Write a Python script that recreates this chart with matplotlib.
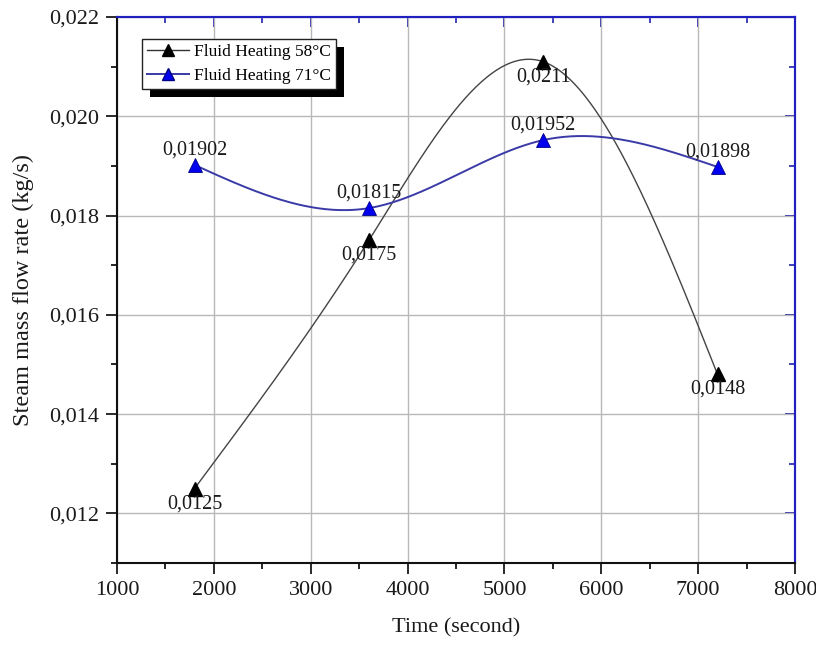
import numpy as np
import matplotlib
matplotlib.use("Agg")
import matplotlib.pyplot as plt
from matplotlib.ticker import MultipleLocator, FuncFormatter
from matplotlib.patches import Rectangle

plt.rcParams['font.family'] = ['Liberation Serif', 'DejaVu Serif']
plt.rcParams['mathtext.fontset'] = 'stix'

time_s = [1800, 3600, 5400, 7200]
flow_58 = [0.0125, 0.0175, 0.0211, 0.0148]
flow_71 = [0.01902, 0.01815, 0.01952, 0.01898]
labels_58 = ["0,0125", "0,0175", "0,0211", "0,0148"]
labels_71 = ["0,01902", "0,01815", "0,01952", "0,01898"]
series_names = ["Fluid Heating 58°C", "Fluid Heating 71°C"]


def natural_spline(x, y, n=300):
    x = np.asarray(x, float)
    y = np.asarray(y, float)
    k = len(x)
    h = np.diff(x)
    A = np.zeros((k, k))
    b = np.zeros(k)
    A[0, 0] = 1
    A[-1, -1] = 1
    for i in range(1, k - 1):
        A[i, i - 1] = h[i - 1]
        A[i, i] = 2 * (h[i - 1] + h[i])
        A[i, i + 1] = h[i]
        b[i] = 6 * ((y[i + 1] - y[i]) / h[i] - (y[i] - y[i - 1]) / h[i - 1])
    M = np.linalg.solve(A, b)
    xs = np.linspace(x[0], x[-1], n)
    ys = np.empty_like(xs)
    for j, xv in enumerate(xs):
        i = min(np.searchsorted(x, xv, side='right') - 1, k - 2)
        hi = h[i]
        t1 = x[i + 1] - xv
        t0 = xv - x[i]
        ys[j] = (M[i] * t1 ** 3 / (6 * hi) + M[i + 1] * t0 ** 3 / (6 * hi)
                 + (y[i] / hi - M[i] * hi / 6) * t1
                 + (y[i + 1] / hi - M[i + 1] * hi / 6) * t0)
    return xs, ys


fig = plt.figure(figsize=(8.16, 6.45), dpi=100)
ax = fig.add_axes([0.1434, 0.1271, 0.8309, 0.8465])

ax.set_xlim(1000, 8000)
ax.set_ylim(0.011, 0.022)

ax.grid(True, which='major', color='#b8b8b8', lw=1.0, zorder=0)
ax.set_axisbelow(True)

black = '#000000'
blue_line = '#3a3aa8'
blue_mk = '#0000ee'

xs, ys = natural_spline(time_s, flow_58)
ax.plot(xs, ys, color='#444444', lw=1.0, zorder=2)
xs2, ys2 = natural_spline(time_s, flow_71)
ax.plot(xs2, ys2, color=blue_line, lw=1.4, zorder=2)

ax.plot(time_s, flow_58, linestyle='none', marker='^', ms=10.5, color=black, zorder=3)
ax.plot(time_s, flow_71, linestyle='none', marker='^', ms=10.5, color=blue_mk,
        markeredgecolor='#000088', markeredgewidth=0.6, zorder=3)

# legend proxies
h1, = ax.plot([], [], color='#333333', lw=1.0, marker='^', ms=9, mfc=black, mec=black)
h2, = ax.plot([], [], color=blue_line, lw=1.4, marker='^', ms=9, mfc=blue_mk, mec='#000088')

for x, y, t in zip(time_s, flow_58, labels_58):
    ax.annotate(t, (x, y), xytext=(0, -4), textcoords='offset points',
                ha='center', va='top', fontsize=14.5, color='#1a1a1a', zorder=4)
for x, y, t in zip(time_s, flow_71, labels_71):
    ax.annotate(t, (x, y), xytext=(0, 7.5), textcoords='offset points',
                ha='center', va='baseline', fontsize=14.5, color='#1a1a1a', zorder=4)

ax.xaxis.set_major_locator(MultipleLocator(1000))
ax.xaxis.set_minor_locator(MultipleLocator(500))
ax.yaxis.set_major_locator(MultipleLocator(0.002))
ax.yaxis.set_minor_locator(MultipleLocator(0.001))
ax.yaxis.set_major_formatter(FuncFormatter(lambda v, p: f"{v:.3f}".replace('.', ',')))

ax.tick_params(axis='both', which='major', direction='out', length=8, width=1.3,
               labelsize=16, pad=5, colors='#1a1a1a')
ax.tick_params(axis='both', which='minor', direction='out', length=4, width=1.2)

# top/right: inward ticks in blue via secondary axes
sec_x = ax.secondary_xaxis('top')
sec_x.xaxis.set_major_locator(MultipleLocator(1000))
sec_x.xaxis.set_minor_locator(MultipleLocator(500))
sec_x.tick_params(which='major', direction='in', length=7, width=1.3, colors='#2020b0', labeltop=False)
sec_x.tick_params(which='minor', direction='in', length=4, width=1.2, colors='#2020b0')
sec_x.spines['top'].set_color('#2020c0')
sec_x.spines['top'].set_linewidth(1.5)

sec_y = ax.secondary_yaxis('right')
sec_y.yaxis.set_major_locator(MultipleLocator(0.002))
sec_y.yaxis.set_minor_locator(MultipleLocator(0.001))
sec_y.tick_params(which='major', direction='in', length=7, width=1.3, colors='#2020b0', labelright=False)
sec_y.tick_params(which='minor', direction='in', length=4, width=1.2, colors='#2020b0')
sec_y.spines['right'].set_color('#2020c0')
sec_y.spines['right'].set_linewidth(1.5)

ax.spines['top'].set_color('#2020c0')
ax.spines['right'].set_color('#2020c0')
for s in ['left', 'bottom']:
    ax.spines[s].set_color('#111111')
    ax.spines[s].set_linewidth(1.5)
ax.spines['top'].set_linewidth(1.5)
ax.spines['right'].set_linewidth(1.5)

ax.set_xlabel("Time (second)", fontsize=16, color='#1a1a1a', labelpad=13)
ax.set_ylabel("Steam mass flow rate (kg/s)", fontsize=17.5, color='#1a1a1a', labelpad=11)

leg = ax.legend([h1, h2], series_names, loc='upper left', bbox_to_anchor=(0.037, 0.96),
                borderaxespad=0, fontsize=12.5, frameon=True, fancybox=False,
                edgecolor='#222222', framealpha=1, handlelength=2.4, handletextpad=0.3,
                labelspacing=0.45, borderpad=0.3)
leg.get_frame().set_linewidth(1.0)
leg.set_zorder(6)

fig.canvas.draw()
inv = ax.transAxes.inverted()
bb = leg.get_window_extent().transformed(inv)
px = inv.transform((8, 0))[0] - inv.transform((0, 0))[0]
py = inv.transform((0, 8))[1] - inv.transform((0, 0))[1]
ax.add_patch(Rectangle((bb.x0 + px, bb.y0 - py), bb.width, bb.height, transform=ax.transAxes,
                       facecolor='black', edgecolor='none', zorder=5.5, clip_on=False))

fig.savefig("out.png", dpi=100)
